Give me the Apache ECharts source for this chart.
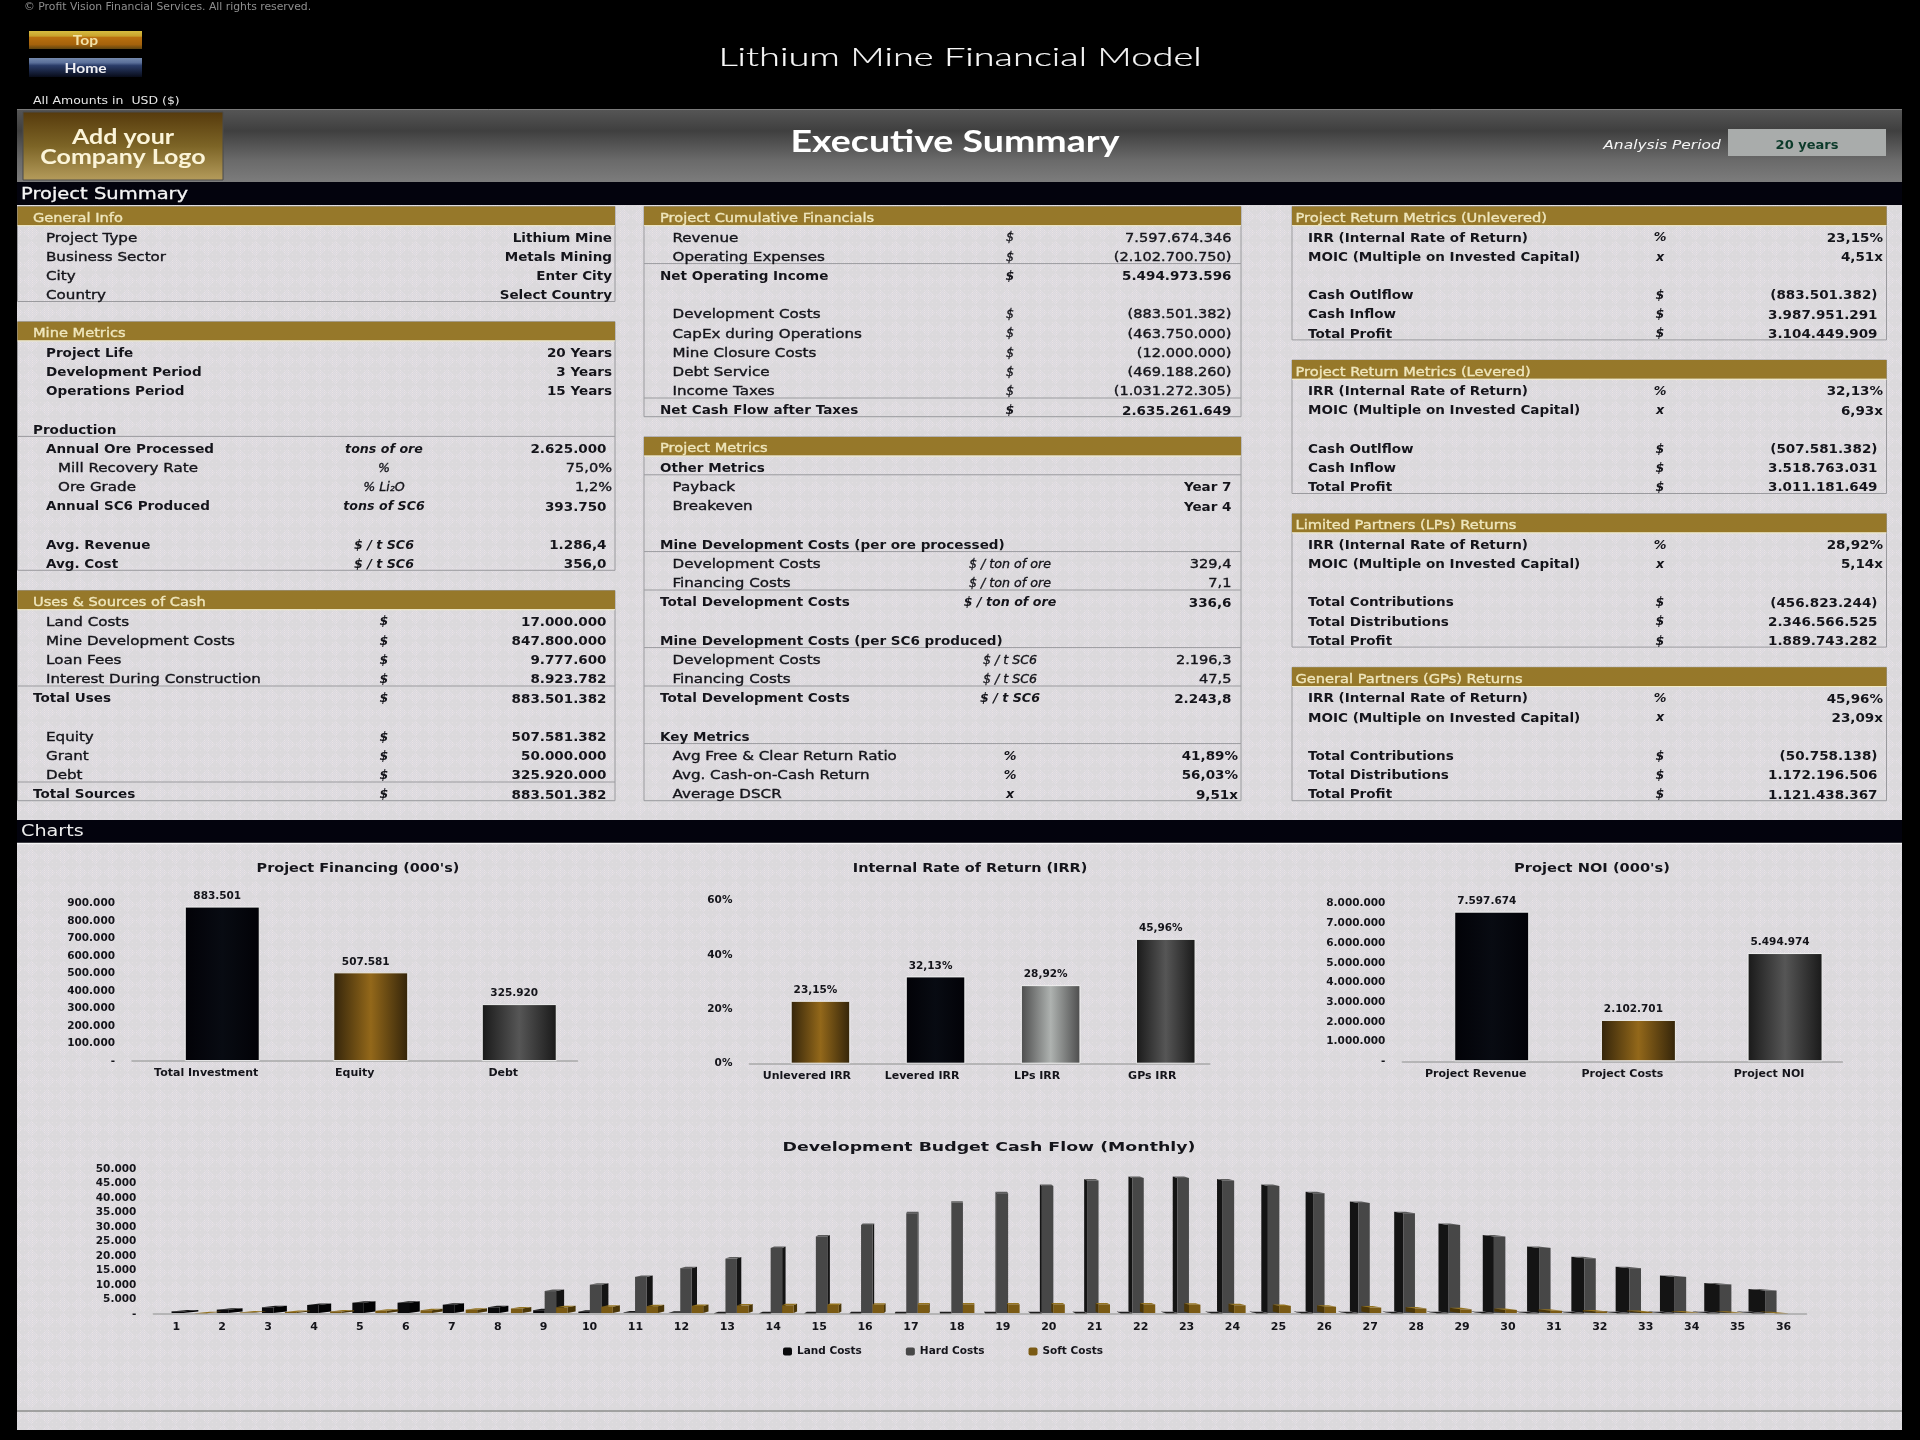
<!DOCTYPE html>
<html>
<head>
<meta charset="utf-8">
<title>Lithium Mine Financial Model</title>
<script src="https://cdn.jsdelivr.net/npm/echarts@6/dist/echarts.min.js"></script>
<style>
html, body { margin: 0; padding: 0; background: #000; }
#main { width: 1920px; height: 1440px; }
</style>
</head>
<body>
<div id="main"></div>
<script>
// table contents: [label, unit, value], null = empty row
var generalInfoRows = [['Project Type', '', 'Lithium Mine'], ['Business Sector', '', 'Metals Mining'], ['City', '', 'Enter City'], ['Country', '', 'Select Country']];
var mineMetricsRows = [
    ['Project Life', '', '20 Years'], ['Development Period', '', '3 Years'], ['Operations Period', '', '15 Years'], null,
    ['Production', '', ''], ['Annual Ore Processed', 'tons of ore', '2.625.000'], ['Mill Recovery Rate', '%', '75,0%'], ['Ore Grade', '% Li₂O', '1,2%'],
    ['Annual SC6 Produced', 'tons of SC6', '393.750'], null, ['Avg. Revenue', '$ / t SC6', '1.286,4'], ['Avg. Cost', '$ / t SC6', '356,0']
];
var usesSourcesRows = [
    ['Land Costs', '$', '17.000.000'], ['Mine Development Costs', '$', '847.800.000'], ['Loan Fees', '$', '9.777.600'], ['Interest During Construction', '$', '8.923.782'],
    ['Total Uses', '$', '883.501.382'], null, ['Equity', '$', '507.581.382'], ['Grant', '$', '50.000.000'], ['Debt', '$', '325.920.000'], ['Total Sources', '$', '883.501.382']
];
var cumulativeRows = [
    ['Revenue', '$', '7.597.674.346'], ['Operating Expenses', '$', '(2.102.700.750)'], ['Net Operating Income', '$', '5.494.973.596'], null,
    ['Development Costs', '$', '(883.501.382)'], ['CapEx during Operations', '$', '(463.750.000)'], ['Mine Closure Costs', '$', '(12.000.000)'],
    ['Debt Service', '$', '(469.188.260)'], ['Income Taxes', '$', '(1.031.272.305)'], ['Net Cash Flow after Taxes', '$', '2.635.261.649']
];
var projectMetricsRows = [
    ['Other Metrics', '', ''], ['Payback', '', 'Year 7'], ['Breakeven', '', 'Year 4'], null,
    ['Mine Development Costs (per ore processed)', '', ''], ['Development Costs', '$ / ton of ore', '329,4'], ['Financing Costs', '$ / ton of ore', '7,1'], ['Total Development Costs', '$ / ton of ore', '336,6'], null,
    ['Mine Development Costs (per SC6 produced)', '', ''], ['Development Costs', '$ / t SC6', '2.196,3'], ['Financing Costs', '$ / t SC6', '47,5'], ['Total Development Costs', '$ / t SC6', '2.243,8'], null,
    ['Key Metrics', '', ''], ['Avg Free & Clear Return Ratio', '%', '41,89%'], ['Avg. Cash-on-Cash Return', '%', '56,03%'], ['Average DSCR', 'x', '9,51x']
];
var unleveredRows = [['IRR (Internal Rate of Return)', '%', '23,15%'], ['MOIC (Multiple on Invested Capital)', 'x', '4,51x'], null, ['Cash Outlflow', '$', '(883.501.382)'], ['Cash Inflow', '$', '3.987.951.291'], ['Total Profit', '$', '3.104.449.909']];
var leveredRows = [['IRR (Internal Rate of Return)', '%', '32,13%'], ['MOIC (Multiple on Invested Capital)', 'x', '6,93x'], null, ['Cash Outlflow', '$', '(507.581.382)'], ['Cash Inflow', '$', '3.518.763.031'], ['Total Profit', '$', '3.011.181.649']];
var lpRows = [['IRR (Internal Rate of Return)', '%', '28,92%'], ['MOIC (Multiple on Invested Capital)', 'x', '5,14x'], null, ['Total Contributions', '$', '(456.823.244)'], ['Total Distributions', '$', '2.346.566.525'], ['Total Profit', '$', '1.889.743.282']];
var gpRows = [['IRR (Internal Rate of Return)', '%', '45,96%'], ['MOIC (Multiple on Invested Capital)', 'x', '23,09x'], null, ['Total Contributions', '$', '(50.758.138)'], ['Total Distributions', '$', '1.172.196.506'], ['Total Profit', '$', '1.121.438.367']];

// chart data
var financingCats = ['Total Investment', 'Equity', 'Debt'];
var financingVals = [883501, 507581, 325920];
var irrCats = ['Unlevered IRR', 'Levered IRR', 'LPs IRR', 'GPs IRR'];
var irrVals = [23.15, 32.13, 28.92, 45.96];
var noiCats = ['Project Revenue', 'Project Costs', 'Project NOI'];
var noiVals = [7597674, 2102701, 5494974];
var months = ['1', '2', '3', '4', '5', '6', '7', '8', '9', '10', '11', '12', '13', '14', '15', '16', '17', '18', '19', '20', '21', '22', '23', '24', '25', '26', '27', '28', '29', '30', '31', '32', '33', '34', '35', '36'];
var landCosts = [900, 1500, 2300, 3100, 3900, 3900, 3200, 2300, 1300, 800, 500, 400, 300, 300, 300, 300, 300, 300, 300, 300, 300, 300, 300, 300, 300, 300, 300, 300, 300, 300, 300, 300, 300, 300, 300, 300];
var hardCosts = [0, 0, 0, 0, 0, 0, 0, 0, 7900, 10100, 12800, 15800, 19100, 22800, 26700, 30700, 34700, 38400, 41600, 44100, 46000, 46900, 46900, 46000, 44100, 41600, 38300, 34700, 30700, 26700, 22800, 19200, 15800, 12800, 10200, 8100];
var softCosts = [300, 500, 700, 900, 1100, 1300, 1500, 1900, 2300, 2500, 2700, 2800, 2900, 3000, 3100, 3200, 3300, 3300, 3300, 3300, 3300, 3300, 3200, 3000, 2800, 2500, 2200, 1900, 1600, 1400, 1100, 900, 700, 500, 400, 300];

var FONT = '"DejaVu Sans"';
var textDark = '#14141a';
var lineGray = '#9a9a9e';

// paper texture of the sheet: faint diamonds with light and pink specks
function paperTile() {
    var size = 32, c = document.createElement('canvas');
    c.width = size; c.height = size;
    var ctx = c.getContext('2d');
    ctx.fillStyle = '#dbd9dc';
    ctx.fillRect(0, 0, size, size);
    for (var y = 0; y < size; y++) {
        for (var x = 0; x < size; x++) {
            var inside = ((x + y) % size < size / 2) !== (((x - y + size) % size) < size / 2);
            if (inside && (x + y) % 2 === 0) {
                ctx.fillStyle = (x % 4 === 0) ? '#e9e2e6' : '#e1dde4';
                ctx.fillRect(x, y, 1, 1);
            } else if (!inside && x % 4 === 0 && y % 4 === 2) {
                ctx.fillStyle = '#e2dee0';
                ctx.fillRect(x, y, 1, 1);
            }
        }
    }
    return { image: c, repeat: 'repeat' };
}
var paper = paperTile();

function vgrad(stops) {
    return new echarts.graphic.LinearGradient(0, 0, 0, 1, stops.map(function (s) { return { offset: s[0], color: s[1] }; }));
}
function hgrad(a, b) {
    return new echarts.graphic.LinearGradient(0, 0, 1, 0, [{ offset: 0, color: a }, { offset: 0.5, color: b }, { offset: 1, color: a }]);
}
var barFills = {
    black: hgrad('#020207', '#080b12'),
    gold: hgrad('#33240a', '#93681a'),
    gray: hgrad('#191919', '#565656'),
    silver: hgrad('#4c4c4c', '#aeb2b0')
};

var els = [];
function rect(x, y, w, h, fill, stroke) {
    els.push({ type: 'rect', silent: true, z: 0, shape: { x: x, y: y, width: w, height: h }, style: { fill: fill, stroke: stroke || null, lineWidth: stroke ? 1 : 0 } });
}
function line(x1, y1, x2, y2, color, width) {
    els.push({ type: 'line', silent: true, z: 1, shape: { x1: x1, y1: y1, x2: x2, y2: y2 }, style: { stroke: color || lineGray, lineWidth: width || 1 } });
}
// sx stretches the text sideways, heavy thickens thin glyphs a little
function text(str, x, y, font, fill, align, sx, heavy) {
    var col = fill || textDark;
    els.push({
        type: 'text', silent: true, z: 3, x: x, y: y, scaleX: sx || 1,
        style: {
            text: str, font: font.indexOf('Lato') >= 0 ? font : font + ' ' + FONT, fill: col, textAlign: align || 'left', textVerticalAlign: 'middle',
            stroke: heavy ? col : null, lineWidth: heavy || 0
        }
    });
}

// page frame
rect(17, 205, 1885, 615, paper);
rect(17, 843, 1885, 587, paper);
rect(17, 182, 1885, 23, '#03030d');
rect(17, 820, 1885, 23, '#03030d');
line(17, 843.5, 1902, 843.5, '#f4f4f4', 1.5);
line(17, 1411, 1902, 1411, '#8c8c8c', 1.5);

// top area
text('© Profit Vision Financial Services. All rights reserved.', 24, 7, '10.5px', '#8e8e8e', 'left', 1.03);
rect(29, 31, 113, 18, vgrad([[0, '#d6bd40'], [0.28, '#c9a22c'], [0.36, '#b9700f'], [0.75, '#a4620c'], [1, '#5e4410']]));
text('Top', 85.5, 41, 'bold 13px Lato', '#f3e3a8', 'center', 1.2);
rect(29, 58, 113, 19, vgrad([[0, '#7489ad'], [0.25, '#5a6f99'], [0.4, '#2a3c68'], [1, '#080c1a']]));
text('Home', 85.5, 68.5, 'bold 13px Lato', '#f0f0f4', 'center', 1.2);
text('Lithium Mine Financial Model', 960, 58, '300 25px Lato', '#f8f8f8', 'center', 1.52, 0.2);
text('All Amounts in  USD ($)', 33, 101, '10.5px', '#e6e6e6', 'left', 1.19);

// header band
rect(17, 109, 1885, 73, vgrad([[0, '#565656'], [0.3, '#3f3f3f'], [0.7, '#6a6a6a'], [1, '#7c7c7c']]));
line(17, 109.5, 1902, 109.5, '#7a7a7a');
rect(23, 112, 200, 68, vgrad([[0, '#563a0c'], [0.5, '#7c6426'], [1, '#b59c5c']]), '#4a4a4a');
text('Add your', 123, 138, 'bold 20px Lato', '#fbf4d8', 'center', 1.25);
text('Company Logo', 123, 158, 'bold 20px Lato', '#fbf4d8', 'center', 1.25);
text('Executive Summary', 955, 142, 'bold 30px Lato', '#ffffff', 'center', 1.25);
text('Analysis Period', 1662, 146, 'italic 13px', '#f4f4f4', 'center', 1.19);
rect(1728, 129, 158, 27, '#a9acab');
text('20 years', 1807, 146, 'bold 13px', '#0c3a2a', 'center');
text('Project Summary', 21, 195.5, '15px', '#f4f4f4', 'left', 1.3, 0.3);
text('Charts', 21, 832.5, '15px', '#ececec', 'left', 1.28);

// tables sit on one row grid
var ROW_TOP = 206.5, ROW_H = 19.2, TEXT_MID = 219.2;
var leftCol = { x0: 17.5, x1: 615, title: 33, group: 33, label: 46, sub: 58, unit: 384, near: 606.5, far: 612 };
var midCol = { x0: 644, x1: 1241, title: 660, group: 660, label: 672.5, sub: 672.5, unit: 1010, near: 1231.5, far: 1238 };
var rightCol = { x0: 1292, x1: 1886.5, title: 1295.5, group: 1308, label: 1308, sub: 1308, unit: 1660, near: 1877.5, far: 1883 };

// kinds per row: p plain, v plain label + bold value, b bold, g bold group label, s indented plain
function panel(col, row, title, rows, kinds, lines) {
    var lastY = ROW_TOP + ROW_H * (row + rows.length + 1) - 1;
    rect(col.x0, ROW_TOP + ROW_H * row, col.x1 - col.x0, lastY - ROW_TOP - ROW_H * row, 'transparent', lineGray);
    rect(col.x0, ROW_TOP + ROW_H * row, col.x1 - col.x0, ROW_H - 0.5, '#96782a');
    line(col.x0, ROW_TOP + ROW_H * (row + 1), col.x1, ROW_TOP + ROW_H * (row + 1), '#f2ecc8');
    text(title, col.title, TEXT_MID + ROW_H * row - 0.5, '12.6px', '#efe6bc', 'left', 1.16, 0.35);
    rows.forEach(function (r, i) {
        if (!r) { return; }
        var y = TEXT_MID + ROW_H * (row + 1 + i);
        var k = kinds[i];
        var lx = k === 'g' ? col.group : (k === 's' ? col.sub : col.label);
        var labelBold = k === 'b' || k === 'g';
        var valueBold = k !== 'p' && k !== 's';
        if (labelBold) {
            text(r[0], lx, y, 'bold 12.6px', textDark, 'left', 1.075);
        } else {
            text(r[0], lx, y, '12.6px', textDark, 'left', 1.2, 0.35);
        }
        if (r[1]) { text(r[1], col.unit, y, 'italic ' + (valueBold ? 'bold 11.5px' : '11.5px'), textDark, 'center', 1.1, valueBold ? 0 : 0.3); }
        if (r[2]) {
            var far = /[%a-zA-Z]$/.test(r[2]);
            if (valueBold) {
                text(r[2], far ? col.far : col.near, y, 'bold 13px', textDark, 'right', 1.04);
            } else {
                text(r[2], far ? col.far : col.near, y, '12.6px', textDark, 'right', 1.155, 0.35);
            }
        }
    });
    lines.forEach(function (i) {
        var y = ROW_TOP + ROW_H * (row + 2 + i) - 0.5;
        line(col.x0, y, col.x1, y);
    });
}
panel(leftCol, 0, 'General Info', generalInfoRows, 'vvvv', []);
panel(leftCol, 6, 'Mine Metrics', mineMetricsRows, 'bbb.gbssb.bb', [4]);
panel(leftCol, 20, 'Uses & Sources of Cash', usesSourcesRows, 'vvvvg.vvvg', [3, 8]);
panel(midCol, 0, 'Project Cumulative Financials', cumulativeRows, 'ppg.pppppg', [1, 8]);
panel(midCol, 12, 'Project Metrics', projectMetricsRows, 'gvv.gppg.gppg.gvvv', [0, 4, 6, 9, 11, 14]);
panel(rightCol, 0, 'Project Return Metrics (Unlevered)', unleveredRows, 'bb.bbb', []);
panel(rightCol, 8, 'Project Return Metrics (Levered)', leveredRows, 'bb.bbb', []);
panel(rightCol, 16, 'Limited Partners (LPs) Returns', lpRows, 'bb.bbb', []);
panel(rightCol, 24, 'General Partners (GPs) Returns', gpRows, 'bb.bbb', []);

// chart titles
text("Project Financing (000's)", 358, 869, 'bold 13px', textDark, 'center', 1.107);
text('Internal Rate of Return (IRR)', 970, 869, 'bold 13px', textDark, 'center', 1.11);
text("Project NOI (000's)", 1592, 869, 'bold 13px', textDark, 'center', 1.125);
text('Development Budget Cash Flow (Monthly)', 989, 1147.5, 'bold 13px', textDark, 'center', 1.335);

function dots(v) {
    return v === 0 ? '-' : v.toLocaleString('de-DE');
}
var tickStyle = { color: textDark, fontFamily: FONT, fontWeight: 'bold', fontSize: 10.5 };

function smallChart(index, left, top, width, height, cats, max, interval, fmt) {
    return {
        grid: { left: left, top: top, width: width, height: height },
        xAxis: {
            type: 'category', gridIndex: index, data: cats,
            axisLine: { lineStyle: { color: '#a8a8a8', width: 1.5 } }, axisTick: { show: false },
            axisLabel: Object.assign({}, tickStyle, { margin: 7, interval: 0, fontSize: 11 })
        },
        yAxis: {
            type: 'value', gridIndex: index, min: 0, max: max, interval: interval,
            axisLine: { show: false }, axisTick: { show: false }, splitLine: { show: false },
            axisLabel: Object.assign({}, tickStyle, { margin: 17, padding: [3, 0, 0, 0], formatter: fmt })
        }
    };
}
var charts = [
    smallChart(0, 132, 903.7, 445.5, 157.4, financingCats, 900000, 100000, dots),
    smallChart(1, 749.4, 900.7, 460.4, 163, irrCats, 60, 20, function (v) { return v + '%'; }),
    smallChart(2, 1402.4, 903.7, 440, 157.6, noiCats, 8000000, 1000000, dots),
    smallChart(3, 153.3, 1169, 1653.2, 145, months, 50000, 5000, dots)
];
charts[3].xAxis.axisLabel.margin = 8;

// the 3D bars sit right of the category centre, an empty spacer series pushes them there
function bars(index, vals, fills, barW, spacerW, fmt) {
    return [{
        type: 'bar', xAxisIndex: index, yAxisIndex: index, barWidth: spacerW, silent: true, data: []
    }, {
        type: 'bar', xAxisIndex: index, yAxisIndex: index, barWidth: barW, barGap: 0, silent: true,
        itemStyle: { borderColor: '#f1f1f1', borderWidth: 1 },
        label: { show: true, position: 'top', distance: 5, offset: [-5, 0], formatter: function (p) { return fmt(p.value); }, color: textDark, fontFamily: FONT, fontWeight: 'bold', fontSize: 10.5 },
        data: vals.map(function (v, i) { return { value: v, itemStyle: { color: barFills[fills[i]] } }; })
    }];
}

// monthly chart bars lean towards a vanishing point in the middle of the chart
function depthBar(slot, front, side, top) {
    return function (params, api) {
        var idx = api.value(0), val = api.value(1);
        if (!val) { return; }
        var pt = api.coord([idx, val]), base = api.coord([idx, 0]);
        var w = api.size([1, 0])[0] * 0.25;
        var m = idx + 1;
        var left = pt[0] + 1 - 0.72 * (m - 9) + slot * w;
        var d = 8 - 0.91 * (m - 9);
        var rise = 1.5, y0 = base[1] - 1, y1 = pt[1];
        var sx = d > 0 ? left + w : left;
        return {
            type: 'group', children: [
                { type: 'polygon', shape: { points: [[sx, y1], [sx + d, y1 - rise], [sx + d, y0 - rise], [sx, y0]] }, style: { fill: side } },
                { type: 'polygon', shape: { points: [[left, y1], [left + w, y1], [left + w + d, y1 - rise], [left + d, y1 - rise]] }, style: { fill: top } },
                { type: 'rect', shape: { x: left, y: y1, width: w, height: y0 - y1 }, style: { fill: front } }
            ]
        };
    };
}
function monthly(name, vals, slot, front, side, top) {
    return {
        type: 'custom', name: name, xAxisIndex: 3, yAxisIndex: 3, silent: true, itemStyle: { color: front },
        renderItem: depthBar(slot, front, side, top), encode: { x: 0, y: 1 },
        data: vals.map(function (v, i) { return [i, v]; })
    };
}

var option = {
    animation: false,
    backgroundColor: '#000000',
    textStyle: { fontFamily: FONT },
    legend: {
        data: ['Land Costs', 'Hard Costs', 'Soft Costs'], left: 778, top: 1341, itemWidth: 9, itemHeight: 8, itemGap: 44,
        textStyle: { color: textDark, fontFamily: FONT, fontWeight: 'bold', fontSize: 10.5 }
    },
    grid: charts.map(function (c) { return c.grid; }),
    xAxis: charts.map(function (c) { return c.xAxis; }),
    yAxis: charts.map(function (c) { return c.yAxis; }),
    graphic: { elements: els },
    series: [].concat(
        bars(0, financingVals, ['black', 'gold', 'gray'], 75, 32, dots),
        bars(1, irrVals, ['gold', 'black', 'silver', 'gray'], 59.6, 27, function (v) { return v.toFixed(2).replace('.', ',') + '%'; }),
        bars(2, noiVals, ['black', 'gold', 'gray'], 75, 32, dots),
        [
            monthly('Land Costs', landCosts, -1, '#0a0a0c', '#020203', '#1c1c1c'),
            monthly('Hard Costs', hardCosts, 0, '#474747', '#141414', '#5c5c5c'),
            monthly('Soft Costs', softCosts, 1, '#7a5a14', '#4a3608', '#94731f')
        ]
    )
};
var myChart = echarts.init(document.getElementById('main'));
myChart.setOption(option);
</script>
</body>
</html>
